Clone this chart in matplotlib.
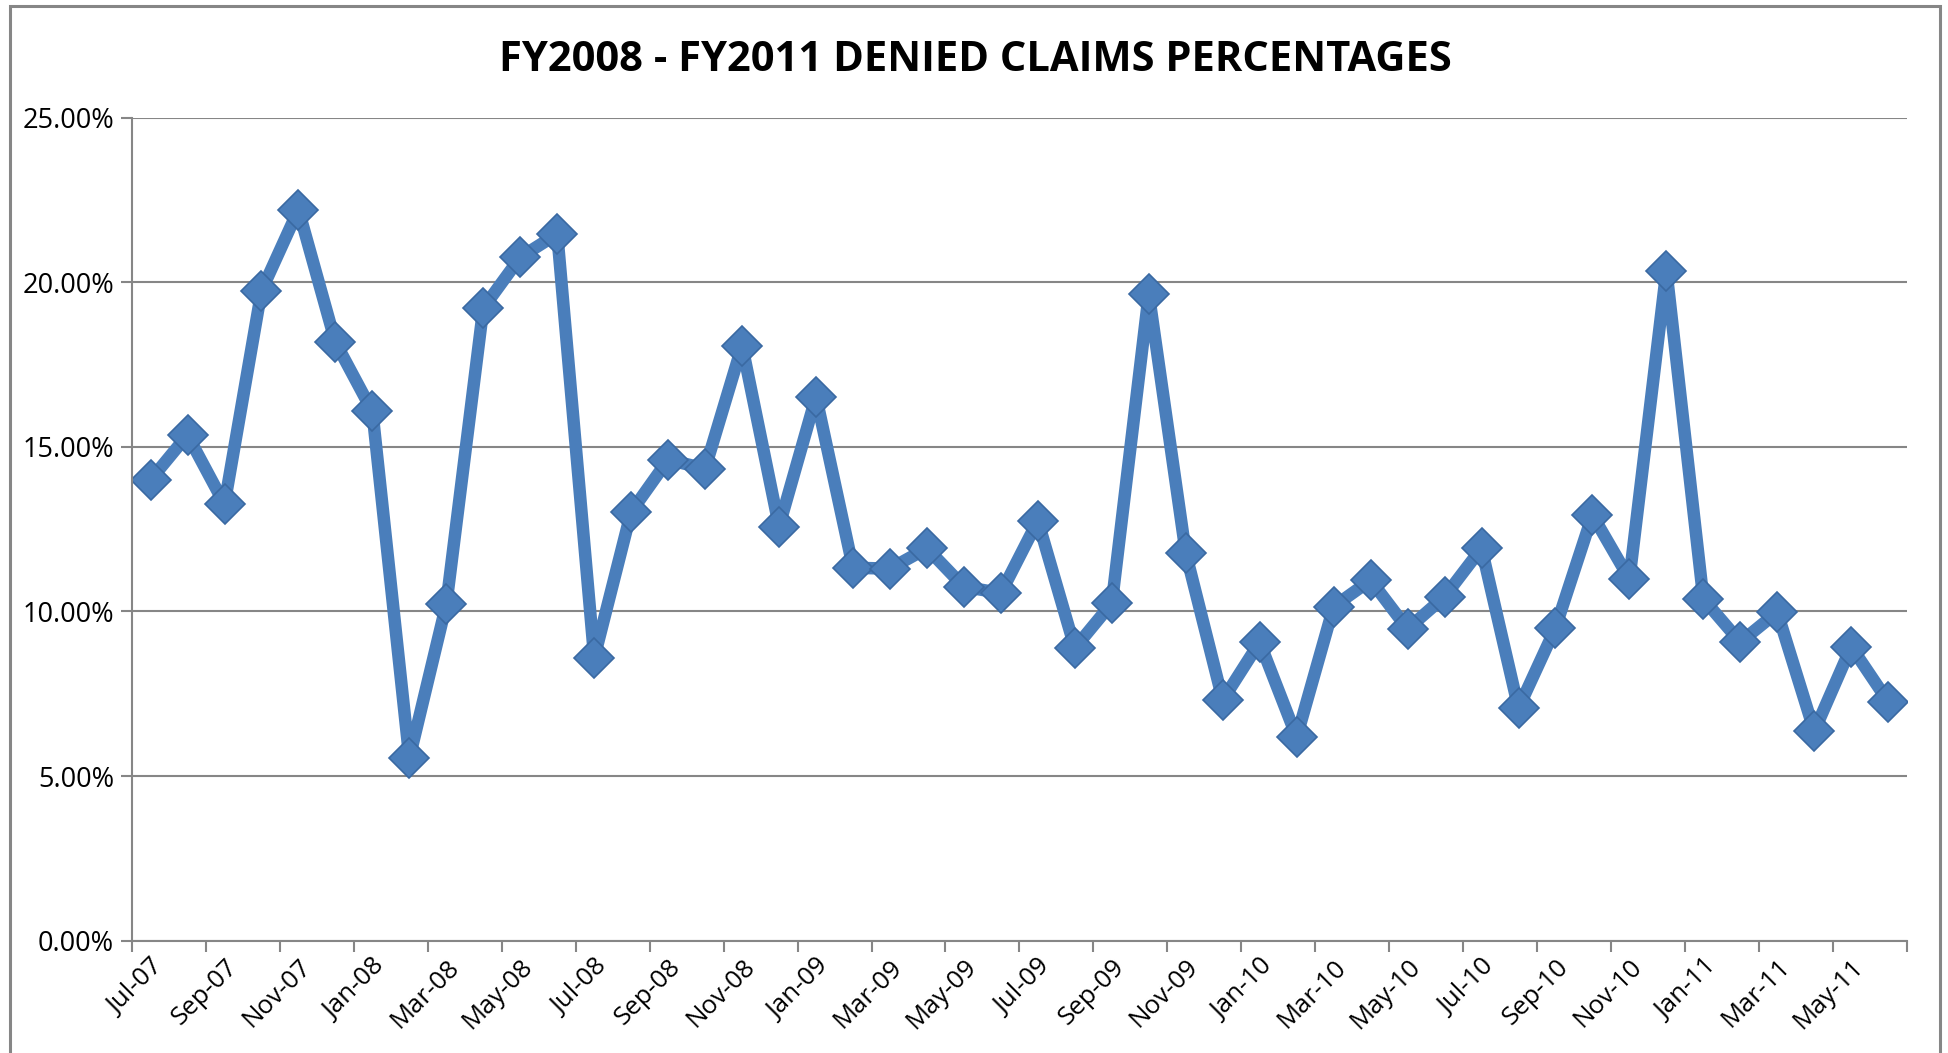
import matplotlib
matplotlib.use("Agg")
import matplotlib.pyplot as plt
from matplotlib.patches import Rectangle
from matplotlib.ticker import FuncFormatter
from matplotlib.transforms import ScaledTranslation

# monthly denied claims percentage, Jul-07 .. Jun-11
months = ["Jul-07", "Aug-07", "Sep-07", "Oct-07", "Nov-07", "Dec-07",
          "Jan-08", "Feb-08", "Mar-08", "Apr-08", "May-08", "Jun-08",
          "Jul-08", "Aug-08", "Sep-08", "Oct-08", "Nov-08", "Dec-08",
          "Jan-09", "Feb-09", "Mar-09", "Apr-09", "May-09", "Jun-09",
          "Jul-09", "Aug-09", "Sep-09", "Oct-09", "Nov-09", "Dec-09",
          "Jan-10", "Feb-10", "Mar-10", "Apr-10", "May-10", "Jun-10",
          "Jul-10", "Aug-10", "Sep-10", "Oct-10", "Nov-10", "Dec-10",
          "Jan-11", "Feb-11", "Mar-11", "Apr-11", "May-11", "Jun-11"]
denied_pct = [14.00, 15.36, 13.26, 19.74, 22.21, 18.18,
              16.08, 5.54, 10.22, 19.22, 20.76, 21.47,
              8.59, 13.03, 14.61, 14.34, 18.08, 12.58,
              16.53, 11.33, 11.30, 11.92, 10.75, 10.56,
              12.76, 8.89, 10.25, 19.64, 11.78, 7.31,
              9.07, 6.18, 10.15, 10.95, 9.47, 10.45,
              11.92, 7.06, 9.50, 12.93, 10.99, 20.35,
              10.38, 9.07, 9.98, 6.36, 8.93, 7.26]
y_ticks = [0, 5, 10, 15, 20, 25]

blue = "#4a7ebb"
grey = "#868686"

fig = plt.figure(figsize=(19.48, 10.53), dpi=100)
# chart area border (bottom edge runs off the image)
fig.patches.append(Rectangle((10 / 1948, -0.01), 1930 / 1948, 1.01 - 6 / 1053,
                             transform=fig.transFigure, fill=False,
                             edgecolor=grey, linewidth=2.2))

ax = fig.add_axes([0.0678, 0.1067, 0.911, 0.7815])
x = list(range(len(months)))
ax.plot(x, denied_pct, color=blue, linewidth=9, solid_joinstyle="round",
        solid_capstyle="round", marker="D", markersize=20,
        markerfacecolor=blue, markeredgecolor="#3a69a2", markeredgewidth=1.2)

ax.set_xlim(-0.5, len(months) - 0.5)
ax.set_ylim(0, 25)
ax.set_yticks(y_ticks)
ax.yaxis.set_major_formatter(FuncFormatter(lambda v, p: f"{v:.2f}%"))
ax.grid(axis="y", color=grey, linewidth=1.5)
ax.set_axisbelow(True)

# labels on every other month, tick marks on category boundaries
ax.set_xticks([i - 0.5 for i in range(0, len(months) + 1, 2)])
ax.set_xticklabels([])
ax.set_xticks(x[::2], minor=True)
ax.set_xticklabels(months[::2], minor=True, rotation=45, ha="right",
                   rotation_mode="anchor", fontsize=18.5, family="Open Sans")
shift = ScaledTranslation(20 / 100, -18 / 100, fig.dpi_scale_trans)
for lab in ax.get_xticklabels(minor=True):
    lab.set_transform(lab.get_transform() + shift)
ax.tick_params(axis="x", which="minor", length=0, pad=10)
ax.tick_params(axis="x", which="major", length=8, width=1.5, color=grey)
ax.tick_params(axis="y", length=8, width=1.5, color=grey, labelsize=19.5, pad=5)
for lab in ax.get_yticklabels():
    lab.set_family("Open Sans")

for side in ["top", "right"]:
    ax.spines[side].set_visible(False)
for side in ["left", "bottom"]:
    ax.spines[side].set_color(grey)
    ax.spines[side].set_linewidth(1.5)

fig.text(0.5005, 0.943, "FY2008 - FY2011 DENIED CLAIMS PERCENTAGES", ha="center",
         va="center", fontsize=30, fontweight="bold", family="Open Sans")

fig.savefig("out.png", dpi=100)
